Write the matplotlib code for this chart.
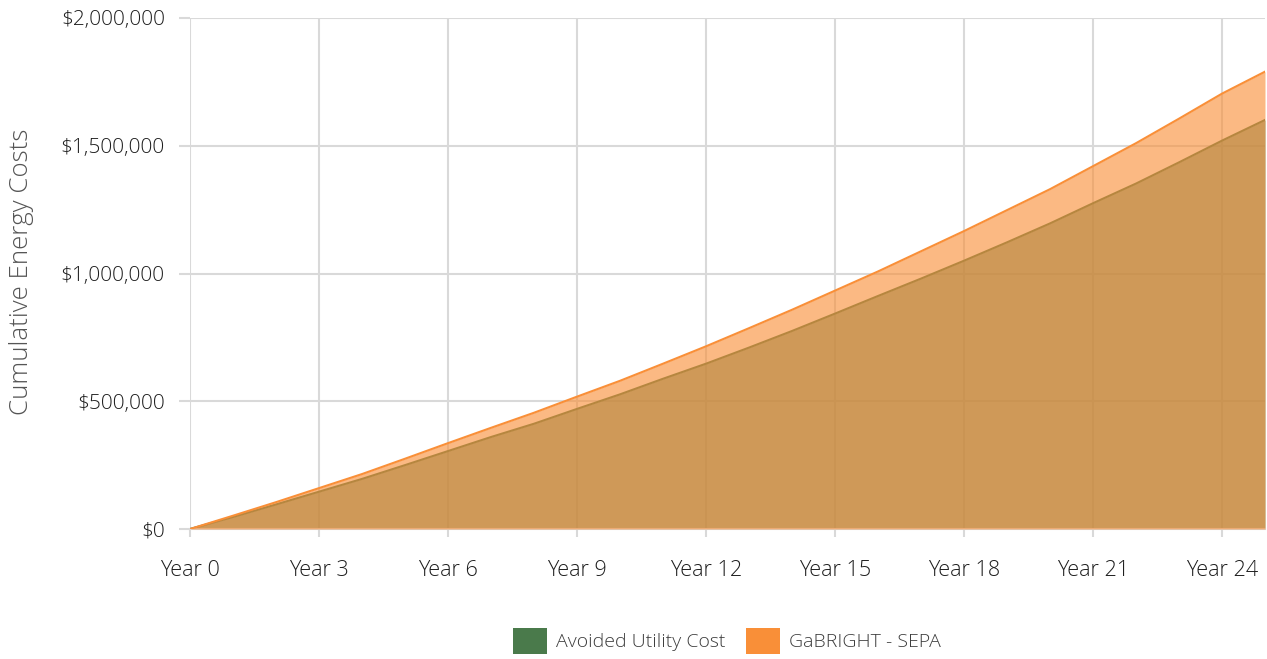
import matplotlib.pyplot as plt
from matplotlib.patches import Patch
from matplotlib.ticker import FuncFormatter

plt.rcParams['font.family'] = ['Open Sans', 'DejaVu Sans']
plt.rcParams['font.weight'] = 'light'

years = list(range(26))
# cumulative costs in dollars
avoided_utility = [0, 47000, 96000, 146000, 196000, 250000, 305000, 360000, 412000,
                   470000, 527000, 588000, 647000, 710000, 775000, 843000, 912000,
                   980000, 1050000, 1122000, 1196000, 1275000, 1352000, 1435000,
                   1520000, 1601000]
gabright_sepa = [0, 52000, 105000, 160000, 215000, 275000, 336000, 396000, 455000,
                 518000, 580000, 647000, 715000, 786000, 858000, 933000, 1008000,
                 1087000, 1166000, 1248000, 1330000, 1420000, 1510000, 1606000,
                 1704000, 1790000]
x_ticks = [0, 3, 6, 9, 12, 15, 18, 21, 24]
y_ticks = [0, 500000, 1000000, 1500000, 2000000]

green = '#4a7a4b'
orange = '#f98f38'
grid_c = '#d9d9d9'

fig = plt.figure(figsize=(12.67, 6.59), dpi=100)
ax = fig.add_axes([190/1267, 1-529/659, 1075/1267, 511/659])

ax.fill_between(years, avoided_utility, color=green, alpha=0.63, lw=0, zorder=2)
ax.plot(years, avoided_utility, color=green, lw=1.5, zorder=2)
ax.fill_between(years, gabright_sepa, color=orange, alpha=0.62, lw=0, zorder=3)
ax.plot(years, gabright_sepa, color=orange, lw=1.5, zorder=3)

ax.set_xlim(0, 25)
ax.set_ylim(0, 2000000)
ax.set_xticks(x_ticks)
ax.set_xticklabels(['Year %d' % y for y in x_ticks])
ax.set_yticks(y_ticks)
ax.yaxis.set_major_formatter(FuncFormatter(lambda v, p: '${:,.0f}'.format(v)))

ax.grid(True, color=grid_c, lw=1.5, zorder=0)
ax.set_axisbelow(True)
for s in ['top', 'right', 'left']:
    ax.spines[s].set_visible(False)
ax.spines['bottom'].set_color(grid_c)
ax.spines['bottom'].set_linewidth(1.5)
ax.tick_params(axis='x', length=6, width=1.5, color=grid_c, pad=16,
               labelsize=15.6, labelcolor='#1e1e1e')
ax.tick_params(axis='y', length=8, width=1.5, color=grid_c, pad=10,
               labelsize=15, labelcolor='#1e1e1e')

fig.text(22/1267, 1-272/659, 'Cumulative Energy Costs', rotation=90,
         ha='center', va='center', fontsize=18.6, color='#555555')

handles = [Patch(facecolor=green, edgecolor='none', label='Avoided Utility Cost'),
           Patch(facecolor=orange, edgecolor='none', label='GaBRIGHT - SEPA')]
leg = fig.legend(handles=handles, loc='center', bbox_to_anchor=(727/1267, 1-641/659),
                 ncol=2, frameon=False, fontsize=14, handlelength=1.75,
                 handleheight=1.7, handletextpad=0.45, columnspacing=1.1)
for t in leg.get_texts():
    t.set_color('#3c3c3c')

fig.savefig('out.png', dpi=100)
